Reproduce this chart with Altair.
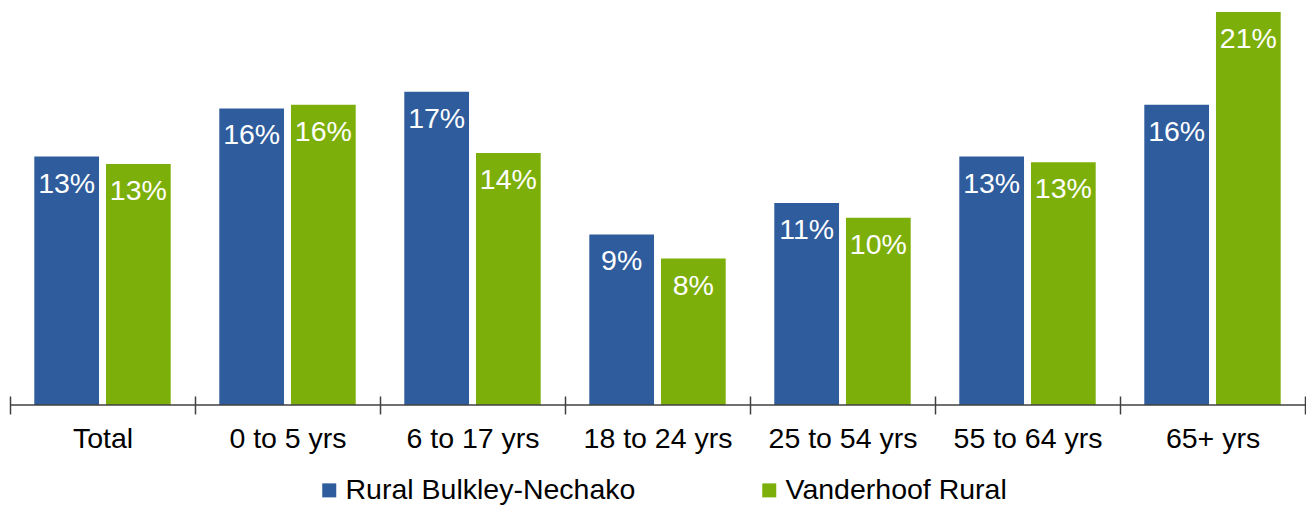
import altair as alt
import pandas as pd

categories = ["Total", "0 to 5 yrs", "6 to 17 yrs", "18 to 24 yrs",
              "25 to 54 yrs", "55 to 64 yrs", "65+ yrs"]
series = ["Rural Bulkley-Nechako", "Vanderhoof Rural"]
rural_bulkley_nechako = [13.4, 16.0, 16.9, 9.2, 10.9, 13.4, 16.2]
vanderhoof_rural = [13.0, 16.2, 13.6, 7.9, 10.1, 13.1, 21.2]
colors = ["#2E5C9C", "#7DAF0A"]

rows = []
for c, a, b in zip(categories, rural_bulkley_nechako, vanderhoof_rural):
    rows.append({"category": c, "series": series[0], "value": a})
    rows.append({"category": c, "series": series[1], "value": b})
df = pd.DataFrame(rows)

FONT = "Liberation Sans"
FS = 28.5

x_enc = alt.X(
    "category:N", sort=categories,
    scale=alt.Scale(paddingInner=0, paddingOuter=0),
    axis=alt.Axis(title=None, labelAngle=0, labelFontSize=FS, labelFont=FONT,
                  labelColor="#000000", domain=False, ticks=True,
                  tickBand="extent", tickSize=18, tickColor="#404040",
                  tickWidth=1.5, offset=-9, labelPadding=10, labelLimit=400,
                  grid=False),
)
xo_enc = alt.XOffset("series:N", sort=series,
                     scale=alt.Scale(paddingInner=0.097, paddingOuter=0.339))
y_enc = alt.Y("value:Q", scale=alt.Scale(domain=[0, 21.2], nice=False), axis=None)

base = alt.Chart(df).transform_calculate(
    label="format(datum.value, '.0f') + '%'"
)

bars = base.mark_bar().encode(
    x=x_enc, xOffset=xo_enc, y=y_enc,
    color=alt.Color(
        "series:N", sort=series,
        scale=alt.Scale(domain=series, range=colors),
        legend=alt.Legend(title=None, orient="none", legendX=305, legendY=464,
                          direction="horizontal", symbolType="square",
                          symbolSize=196, symbolStrokeWidth=0,
                          labelFontSize=FS, labelFont=FONT,
                          labelColor="#000000", columnPadding=119,
                          labelOffset=2, labelLimit=500, symbolOpacity=1),
    ),
)

labels = base.mark_text(color="white", fontSize=FS, font=FONT,
                        baseline="alphabetic", dy=36).encode(
    x=x_enc, xOffset=xo_enc, y=y_enc, text="label:N"
)

baseline_df = pd.DataFrame({"v": [0]})
rule = alt.Chart(baseline_df).mark_rule(color="#404040", strokeWidth=1.5).encode(
    y=alt.Y("v:Q", scale=alt.Scale(domain=[0, 21.2], nice=False), axis=None)
)

chart = alt.layer(bars, labels, rule).properties(
    width=1295, height=393,
    autosize=alt.AutoSizeParams(type="none"),
    padding={"left": 2, "top": 4, "right": 1, "bottom": 103},
).configure_view(stroke=None)

chart.save("out.html", embed_options={"renderer": "svg", "actions": False})
